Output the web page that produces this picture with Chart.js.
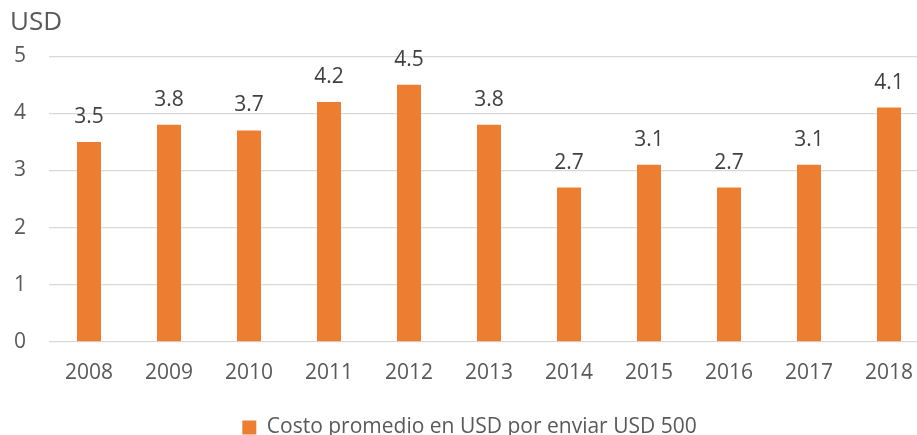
<!DOCTYPE html>
<html lang="es">
<head>
    <meta charset="UTF-8">
    <title>Costo promedio en USD por enviar USD 500</title>
    <style>
        html, body { margin: 0; padding: 0; background: #fff; overflow: hidden; }
        .chart-box { width: 917px; height: 435px; overflow: hidden; position: relative; }
        .chart-inner { width: 930px; height: 448px; }
    </style>
    <script src="https://cdn.jsdelivr.net/npm/chart.js"></script>
</head>
<body>
    <div class="chart-box">
        <div class="chart-inner">
            <canvas id="myBarChart"></canvas>
        </div>
    </div>

    <script>
        // Data
        var years = ['2008', '2009', '2010', '2011', '2012', '2013', '2014', '2015', '2016', '2017', '2018'];
        var costs = [3.5, 3.8, 3.7, 4.2, 4.5, 3.8, 2.7, 3.1, 2.7, 3.1, 4.1];
        var yTicks = [0, 1, 2, 3, 4, 5];
        var seriesName = 'Costo promedio en USD por enviar USD 500';
        var unitLabel = 'USD';

        var fontFamily = '"Open Sans", "Noto Sans", sans-serif';

        // Plugin: white background + value labels above bars
        const valueLabelsPlugin = {
            id: 'valueLabelsPlugin',
            beforeDraw: function(chart) {
                const ctx = chart.ctx;
                ctx.save();
                ctx.fillStyle = '#fff';
                ctx.fillRect(0, 0, chart.width, chart.height);
                ctx.restore();
            },
            afterDatasetsDraw: function(chart) {
                const ctx = chart.ctx;
                ctx.save();
                ctx.fillStyle = '#404040';
                ctx.font = '21px ' + fontFamily;
                ctx.textAlign = 'center';
                ctx.textBaseline = 'alphabetic';
                chart.getDatasetMeta(0).data.forEach(function(bar, i) {
                    ctx.fillText(costs[i].toFixed(1), bar.x, bar.y - 19);
                });
                ctx.restore();
            }
        };

        var data = {
            labels: years,
            datasets: [{
                label: seriesName,
                data: costs,
                backgroundColor: '#ED7D31',
                barPercentage: 0.3,
                categoryPercentage: 1.0
            }]
        };

        var options = {
            responsive: true,
            maintainAspectRatio: false,
            animation: false,
            layout: { padding: { left: 10, right: 1, top: 0, bottom: 0 } },
            plugins: {
                title: {
                    display: true,
                    text: unitLabel,
                    align: 'start',
                    color: '#595959',
                    font: { family: fontFamily, size: 26, weight: 'normal' },
                    padding: { top: 7, bottom: 18 }
                },
                legend: {
                    display: true,
                    position: 'bottom',
                    labels: {
                        color: '#595959',
                        font: { family: fontFamily, size: 21 },
                        boxWidth: 14,
                        boxHeight: 14,
                        padding: 17
                    }
                },
                tooltip: { enabled: false }
            },
            scales: {
                x: {
                    grid: { display: false },
                    border: { display: false },
                    afterFit: function(axis) {
                        axis.height += 3;
                    },
                    ticks: {
                        color: '#595959',
                        font: { family: fontFamily, size: 21 },
                        padding: 11
                    }
                },
                y: {
                    min: yTicks[0],
                    max: yTicks[yTicks.length - 1],
                    grid: { color: '#d9d9d9', lineWidth: 1.3, drawTicks: false },
                    border: { display: false },
                    afterBuildTicks: function(axis) {
                        axis.ticks = yTicks.map(function(v) { return { value: v }; });
                    },
                    afterFit: function(axis) {
                        axis.width = 39;
                    },
                    ticks: {
                        color: '#595959',
                        font: { family: fontFamily, size: 21 },
                        padding: 23
                    }
                }
            }
        };

        Chart.register(valueLabelsPlugin);

        var ctx = document.getElementById('myBarChart').getContext('2d');
        new Chart(ctx, {
            type: 'bar',
            data: data,
            options: options
        });
    </script>
</body>
</html>
